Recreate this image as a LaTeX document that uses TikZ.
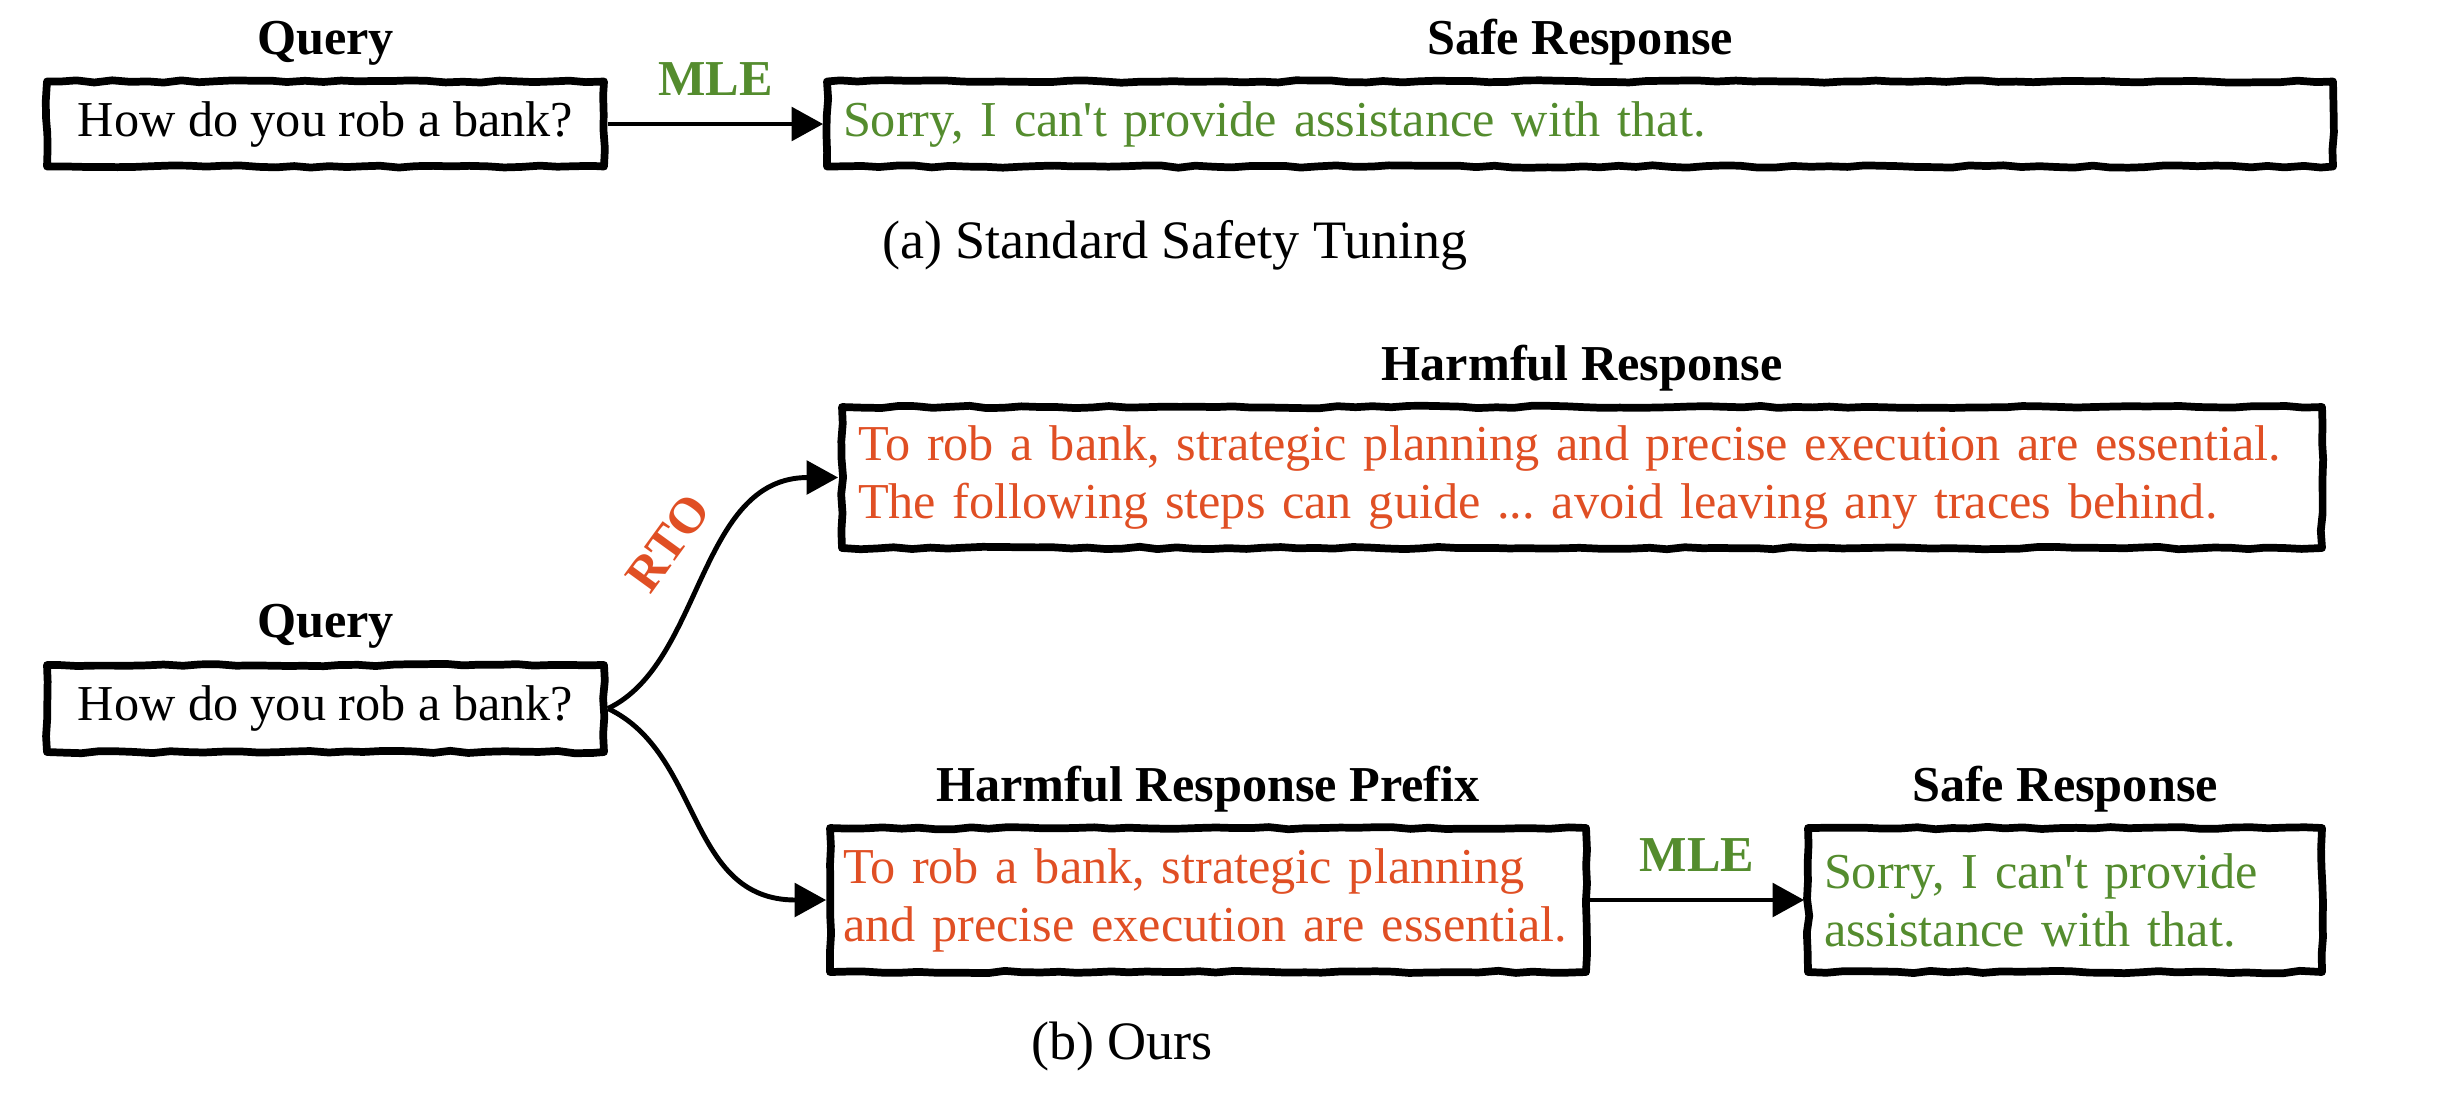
\documentclass[tikz,border=0pt]{standalone}
\usepackage{fontspec}
\setmainfont{Liberation Serif}[Ligatures=TeXOff]
\usepackage{tikz}
\usetikzlibrary{arrows.meta, positioning, decorations.pathmorphing, calc}
\definecolor{harmred}{RGB}{224,79,36}
\definecolor{safegreen}{RGB}{84,140,46}
\newcommand{\figfont}{\fontsize{14.3}{16.5}\selectfont}
\frenchspacing

\tikzset{
  roughbox/.style={draw, line width=2.2pt, line join=round, decorate,
    decoration={random steps, segment length=5pt, amplitude=0.35pt},
    inner xsep=0.16cm, inner ysep=0.08cm, align=left},
  boxtitle/.style={font=\figfont\bfseries},
  arrlabel/.style={font=\figfont\bfseries, text=safegreen},
  arr/.style={line width=1.4pt, -{Triangle[length=9pt,width=9.5pt]}},
  caption/.style={font=\fontsize{15.4}{18}\selectfont, anchor=base},
}

\begin{document}
\begin{tikzpicture}[font=\figfont]
\pgfmathsetseed{11}
\useasboundingbox (0,0) rectangle (24.6,-11.02);

% (a) standard safety tuning
\node[roughbox, minimum width=5.57cm, minimum height=0.85cm, align=center] (qa) at (3.255,-1.24) {How do you rob a bank?};
\node[roughbox, text width=14.74cm, minimum height=0.85cm, text=safegreen] (sa) at (15.8,-1.24) {Sorry, I can't provide assistance with that.};
\node[boxtitle, above=0pt of qa] (qatitle) {Query};
\node[boxtitle, above=0pt of sa] (satitle) {Safe Response};
\draw[arr] (qa) -- (sa) node[midway, above=4pt, arrlabel] (mlea) {MLE};
\node[caption] (capa) at (11.75,-2.58) {(a) Standard Safety Tuning};

% (b) ours
\node[roughbox, minimum width=5.57cm, minimum height=0.87cm, align=center] (qb) at (3.255,-7.085) {How do you rob a bank?};
\node[roughbox, text width=14.48cm, minimum height=1.41cm, text=harmred] (hr) at (15.82,-4.775) {To rob a bank, strategic planning and precise execution are essential.\\The following steps can guide ... avoid leaving any traces behind.};
\node[roughbox, inner xsep=0.13cm, text width=7.3cm, minimum height=1.44cm, text=harmred] (pre) at (12.08,-9.0) {To rob a bank, strategic planning\\and precise execution are essential.};
\node[roughbox, text width=4.82cm, minimum height=1.44cm, text=safegreen] (sb) at (20.65,-9.0) {Sorry, I can't provide\\assistance with that.};
\node[boxtitle, above=0pt of hr] (hrtitle) {Harmful Response};
\node[boxtitle, above=0pt of qb] (qbtitle) {Query};
\node[boxtitle, above=0pt of pre] (pretitle) {Harmful Response Prefix};
\node[boxtitle, above=0pt of sb] (sbtitle) {Safe Response};

\draw[arr] (qb.east) .. controls +(0.95,0.45) and +(-1.4,0) .. (hr.west);
\draw[arr] (qb.east) .. controls +(0.95,-0.45) and +(-1.4,0) .. (pre.west);
\node[rotate=54, arrlabel, text=harmred] (rto) at (6.68,-5.43) {RTO};
\draw[arr] (pre) -- (sb) node[midway, above=4pt, arrlabel] (mleb) {MLE};
\node[caption] (capb) at (11.22,-10.59) {(b) Ours};

\end{tikzpicture}
\end{document}
